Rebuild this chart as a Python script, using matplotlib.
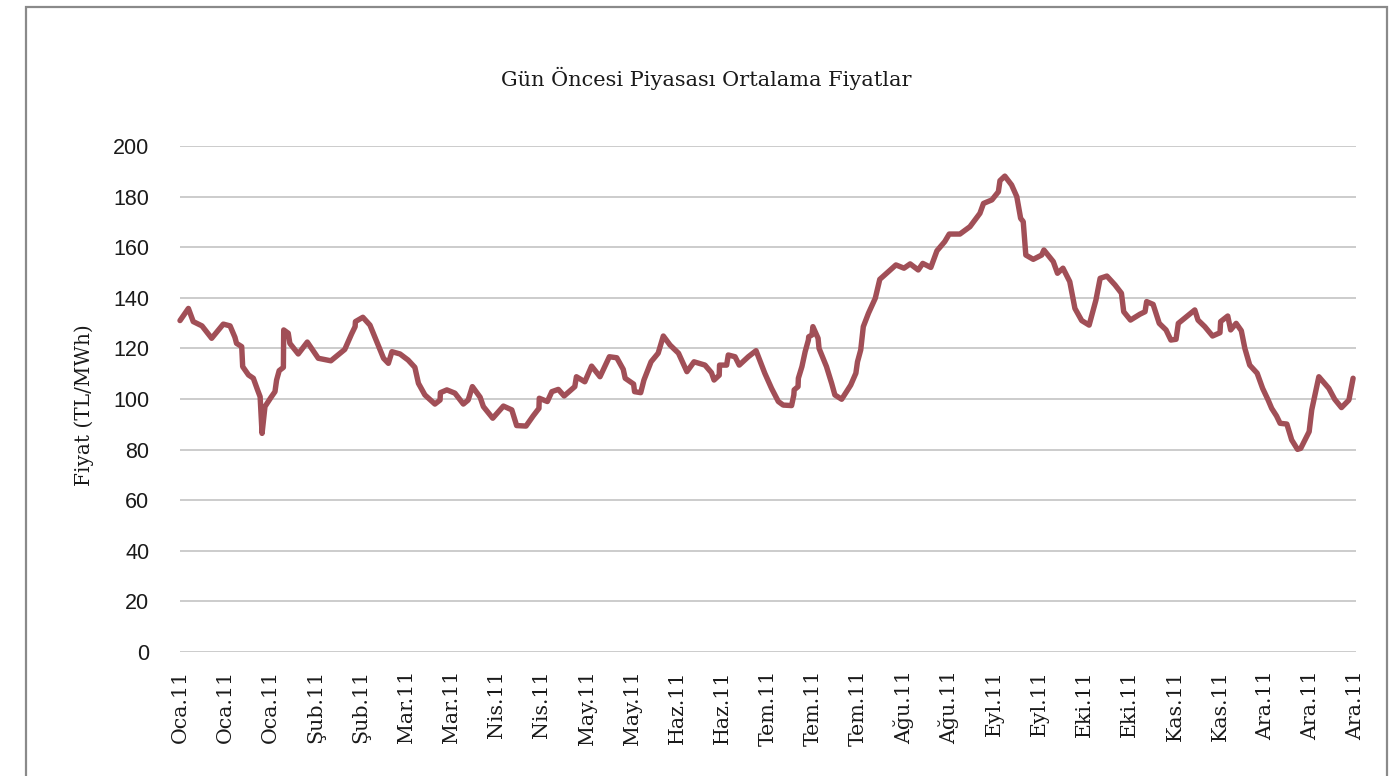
import matplotlib
matplotlib.use("Agg")
import matplotlib.pyplot as plt
from matplotlib.patches import Rectangle

# Day of year (2011) and day-ahead average price (TL/MWh)
days = [0, 2.6, 4.1, 6.8, 9.8, 13.4, 15.5, 17.0, 17.5, 19.1, 19.4, 21.2, 22.7, 24.0, 24.8,
        25.4, 26.3, 28.3, 29.4, 29.9, 30.7, 32.0, 32.1, 33.5, 34.0, 36.6, 39.4, 42.8, 46.7,
        51.0, 53.1, 54.2, 54.3, 56.6, 58.8, 60.9, 63.0, 64.5, 65.6, 68.1, 70.6, 72.7, 73.8,
        75.8, 78.9, 80.5, 80.6, 82.6, 85.1, 87.7, 89.2, 90.5, 92.9, 93.9, 96.8, 100.1, 102.7,
        104.2, 107.1, 109.3, 111.1, 111.2, 113.7, 115.1, 117.1, 118.9, 122.2, 122.7, 125.3,
        127.4, 130.0, 132.9, 135.2, 137.2, 137.8, 140.4, 140.7, 142.6, 143.6, 145.8, 148.0,
        149.6, 151.7, 154.3, 156.9, 159.1, 162.5, 164.5, 165.3, 166.9, 167.0, 169.2, 169.7,
        171.8, 173.1, 175.9, 178.3, 181.0, 183.1, 185.2, 186.7, 189.3, 190.0, 190.1, 191.3,
        191.4, 192.5, 193.5, 194.5, 194.6, 195.6, 195.9, 197.5, 197.8, 200.1, 201.7, 202.7,
        204.8, 207.6, 209.2, 209.7, 210.7, 211.5, 213.1, 215.2, 216.6, 218.7, 221.6, 224.1,
        226.0, 228.5, 229.9, 232.4, 234.3, 236.7, 238.1, 241.4, 244.5, 247.6, 248.7, 251.3,
        253.3, 253.8, 255.3, 257.4, 259.0, 260.2, 261.0, 261.8, 264.1, 266.7, 267.4, 270.3,
        271.6, 273.3, 275.4, 277.0, 279.1, 281.4, 283.5, 284.8, 286.9, 289.4, 291.4, 292.1,
        294.2, 297.1, 298.7, 299.2, 301.2, 303.1, 305.2, 306.7, 308.3, 309.0, 311.5, 314.1,
        315.1, 317.2, 319.6, 321.9, 322.1, 324.3, 325.2, 326.9, 328.5, 329.6, 331.1, 333.4,
        335.1, 336.8, 337.9, 339.4, 340.5, 342.6, 344.1, 345.9, 346.9, 349.5, 350.3, 352.5,
        355.6, 357.4, 359.5, 361.8, 363.1]

prices = [131.0, 135.8, 130.6, 128.9, 124.0, 129.6, 128.9, 124.4, 122.0, 120.7, 112.8, 109.5,
          108.2, 103.6, 100.9, 86.4, 97.0, 100.9, 102.9, 107.5, 111.2, 112.5, 127.3, 126.0,
          122.0, 117.8, 122.5, 116.1, 115.1, 119.6, 125.7, 128.6, 130.6, 132.3, 129.2, 122.7,
          116.1, 114.1, 118.7, 117.8, 115.4, 112.5, 106.2, 101.6, 98.0, 99.6, 102.5, 103.6,
          102.3, 98.0, 99.6, 104.9, 100.7, 97.0, 92.4, 97.2, 95.7, 89.5, 89.3, 93.3, 96.3,
          100.3, 99.0, 102.9, 103.8, 101.2, 104.9, 108.8, 106.8, 113.0, 108.8, 116.7, 116.3,
          111.7, 108.2, 105.9, 102.9, 102.5, 107.5, 114.7, 118.1, 124.9, 121.3, 118.1, 110.8,
          114.7, 113.4, 110.4, 107.5, 109.4, 113.4, 113.4, 117.4, 116.7, 113.4, 116.7, 119.1,
          110.2, 104.2, 99.0, 97.6, 97.4, 101.6, 103.6, 104.9, 108.2, 112.8, 118.7, 123.3,
          124.6, 125.3, 128.6, 124.0, 120.0, 112.8, 106.2, 101.6, 99.9, 105.5, 110.2, 114.7,
          119.4, 128.6, 133.9, 139.8, 147.3, 149.7, 153.0, 151.7, 153.4, 151.0, 153.6, 152.0,
          158.6, 162.2, 165.2, 165.2, 168.1, 173.4, 177.3, 178.7, 181.9, 186.3, 188.1, 184.6,
          180.0, 171.4, 170.1, 156.9, 155.2, 156.9, 158.9, 154.3, 149.7, 151.7, 146.4, 135.8,
          131.0, 129.2, 139.1, 147.7, 148.6, 145.1, 141.8, 134.5, 131.2, 133.5, 134.5, 138.5,
          137.4, 129.9, 127.3, 123.3, 123.6, 129.9, 132.5, 135.2, 131.2, 128.6, 124.9, 126.2,
          130.6, 132.8, 127.3, 129.9, 127.0, 120.0, 113.4, 110.2, 104.2, 99.6, 96.3, 93.3,
          90.4, 90.1, 83.8, 80.1, 80.5, 87.1, 95.7, 108.8, 104.2, 99.9, 96.6, 99.6, 108.2]

tick_days = list(range(0, 365, 14))
tick_labels = ["Oca.11", "Oca.11", "Oca.11", "Şub.11", "Şub.11", "Mar.11", "Mar.11",
               "Nis.11", "Nis.11", "May.11", "May.11", "Haz.11", "Haz.11", "Tem.11",
               "Tem.11", "Tem.11", "Ağu.11", "Ağu.11", "Eyl.11", "Eyl.11", "Eki.11",
               "Eki.11", "Kas.11", "Kas.11", "Ara.11", "Ara.11", "Ara.11"]
y_ticks = list(range(0, 201, 20))

W, H = 1392, 776
fig = plt.figure(figsize=(W / 100, H / 100), dpi=100)
fig.patch.set_facecolor("white")

# outer frame
fig.add_artist(Rectangle((26 / W, -0.05), (1387 - 26) / W, 1.05 - 7 / H,
                         transform=fig.transFigure, fill=False,
                         edgecolor="#8a8a8a", linewidth=1.6))

ax = fig.add_axes([180 / W, 1 - 652 / H, (1356 - 180) / W, (652 - 146) / H])
ax.set_xlim(0, 364)
ax.set_ylim(0, 200)
ax.set_yticks(y_ticks)
ax.yaxis.grid(True, color="#bfbfbf", linewidth=1.1)
ax.set_axisbelow(True)
for s in ax.spines.values():
    s.set_visible(False)

ax.plot(days, prices, color="#a14f57", linewidth=3.9, solid_joinstyle="round",
        solid_capstyle="round", clip_on=False)

ax.set_xticks(tick_days)
ax.set_xticklabels(tick_labels, rotation=90, family="DejaVu Serif", fontsize=14.8,
                   color="#1a1a1a")
ax.tick_params(axis="x", length=0, pad=13)
ax.tick_params(axis="y", length=0, pad=22, labelsize=15.5, labelcolor="#1a1a1a")
for lab in ax.get_yticklabels():
    lab.set_family("Liberation Sans")

fig.text(706 / W, 1 - 78 / H, "Gün Öncesi Piyasası Ortalama Fiyatlar",
         ha="center", va="center", family="DejaVu Serif", fontsize=15, color="#1a1a1a")
fig.text(84 / W, 1 - 405 / H, "Fiyat (TL/MWh)", rotation=90, ha="center", va="center",
         family="DejaVu Serif", fontsize=14.4, color="#1a1a1a")

fig.savefig("out.png", dpi=100)
